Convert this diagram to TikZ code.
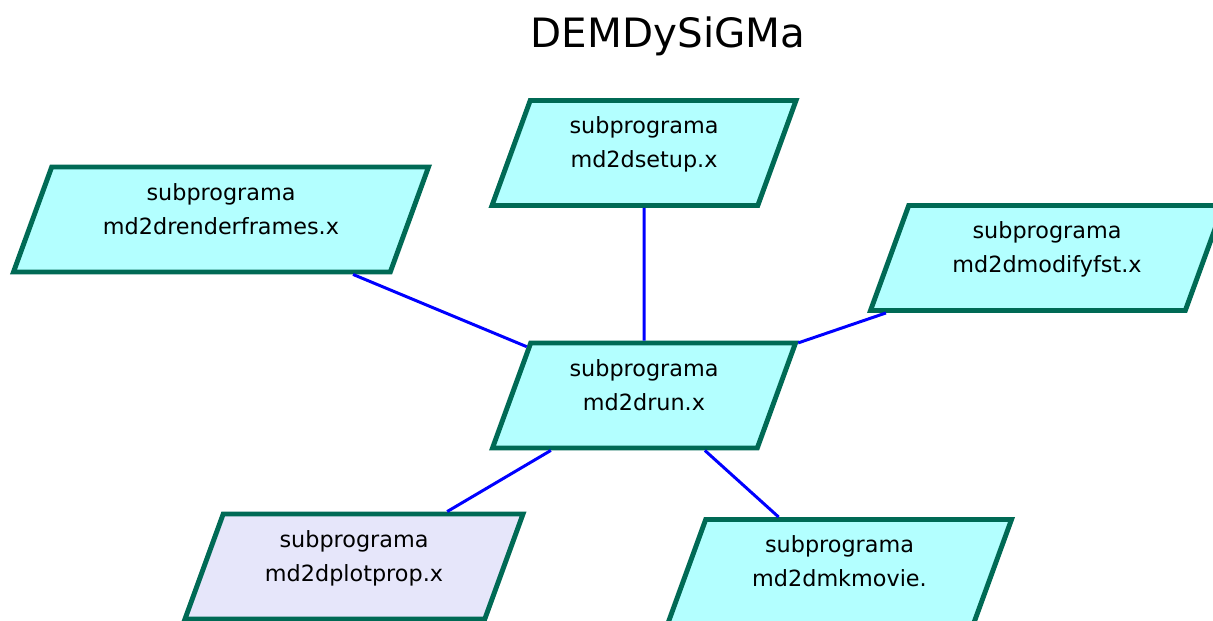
\documentclass[tikz,border=0pt]{standalone}
\usepackage{fontspec}
\setmainfont{DejaVu Sans}
\usetikzlibrary{shapes.geometric}

\definecolor{progfill}{HTML}{B3FFFF}
\definecolor{plotfill}{HTML}{E6E6FA}
\definecolor{progline}{HTML}{006A55}

\begin{document}
\begin{tikzpicture}[
    prog/.style={trapezium, trapezium left angle=70, trapezium right angle=110,
      trapezium stretches body=true, draw=progline, line width=2.8pt, fill=progfill,
      inner xsep=0pt, inner ysep=0.326cm, align=center,
      font=\fontsize{12.7}{19.3}\selectfont,
      execute at end node={\rule[-0.43cm]{0pt}{0.43cm}}},
    link/.style={draw=blue, line width=1.7pt}]
  \useasboundingbox (0,0) rectangle (24.26,-12.42);
  \node (title) [anchor=base, font=\fontsize{23}{28}\selectfont] at (13.36,-0.96) {DEMDySiGMa};
  \node (setup) [prog, minimum width=6.08cm] at (12.88,-3.06) {subprograma\\md2dsetup.x};
  \node (render) [prog, minimum width=8.30cm] at (4.42,-4.39) {subprograma\\md2drenderframes.x};
  \node (modify) [prog, minimum width=7.06cm] at (20.94,-5.16) {subprograma\\md2dmodifyfst.x};
  \node (run) [prog, minimum width=6.06cm] at (12.88,-7.91) {subprograma\\md2drun.x};
  \node (plot) [prog, minimum width=6.76cm, fill=plotfill] at (7.08,-11.33) {subprograma\\md2dplotprop.x};
  \node (movie) [prog, minimum width=6.88cm] at (16.79,-11.44) {subprograma\\md2dmkmovie.};
  \path[link]
    (run) edge (setup);
  \path[link]
    (run) edge (render);
  \path[link]
    (run) edge (modify);
  \path[link]
    (run) edge (plot);
  \path[link]
    (run) edge (movie);
\end{tikzpicture}
\end{document}
